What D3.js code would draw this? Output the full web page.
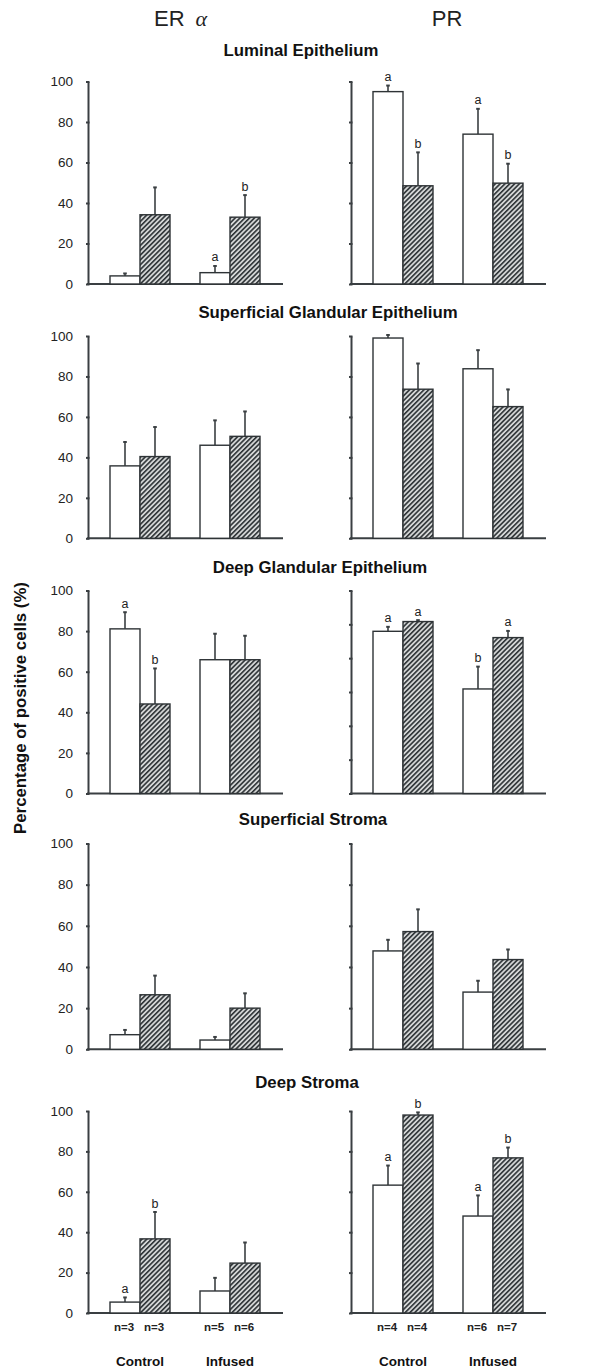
<!DOCTYPE html>
<html><head><meta charset="utf-8">
<script src="https://cdn.jsdelivr.net/npm/d3@7"></script>
<style>body{margin:0;background:#fff} svg{display:block}</style>
</head><body>
<script>
// ---------------- DATA ----------------
const groups = ["Control", "Infused"];
const series = ["open", "hatched"];
const columnTitles = ["ER", "PR"];
const panelTitles = ["Luminal Epithelium", "Superficial Glandular Epithelium", "Deep Glandular Epithelium", "Superficial Stroma", "Deep Stroma"];
const yTickValues = [0, 20, 40, 60, 80, 100];
const yTickValuesSixths = [0, 16.67, 33.33, 50, 66.67, 83.33, 100];
const yAxisLabel = "Percentage of positive cells (%)";
// order of each row: [Control open, Control hatched, Infused open, Infused hatched]
const erMeans = [[4, 34.2, 5.6, 33], [35.8, 40.4, 46, 50.4], [81.1, 44.1, 65.9, 65.9], [7.1, 26.5, 4.5, 20], [5.4, 36.7, 10.9, 24.7]];
const erUpper = [[5.2, 47.7, 8.9, 43.9], [47.6, 55, 58.3, 62.7], [89.3, 61.6, 78.7, 77.7], [9.4, 35.8, 6, 27.2], [7.7, 50, 17.4, 34.9]];
const erLetters = [["", "", "a", "b"], ["", "", "", ""], ["a", "b", "", ""], ["", "", "", ""], ["a", "b", "", ""]];
const prMeans = [[95, 48.5, 74, 49.8], [99, 73.7, 83.8, 65.1], [79.9, 84.7, 51.5, 76.8], [47.8, 57.2, 27.8, 43.6], [63.3, 98, 48, 76.8]];
const prUpper = [[98, 65, 86.5, 59.4], [100.5, 86.4, 93, 73.6], [82.1, 85.4, 62.5, 80.1], [53.2, 68, 33.3, 48.5], [73, 99.3, 58.2, 81.9]];
const prLetters = [["a", "b", "a", "b"], ["", "", "", ""], ["a", "a", "b", "a"], ["", "", "", ""], ["a", "b", "a", "b"]];
const prTicksPerRow = [yTickValues, yTickValues, yTickValuesSixths, yTickValues, yTickValues];
const erN = ["n=3", "n=3", "n=5", "n=6"];
const prN = ["n=4", "n=4", "n=6", "n=7"];

// ---------------- LAYOUT ----------------
const W = 600, H = 1371;
const FONT = "'Liberation Sans', Arial, Helvetica, sans-serif";
const rowTop = [81.5, 336, 590.5, 843.5, 1111];
const rowBottom = [284, 538.3, 793.5, 1049.3, 1313];
const titleX = [301, 328, 320, 313, 307];
const titleY = [56, 318, 573, 825, 1088];
const cols = [
  {axisX: 88, groupRange: [95, 275], xEnd: 283, means: erMeans, upper: erUpper, letters: erLetters, n: erN},
  {axisX: 351, groupRange: [358, 538], xEnd: 546, means: prMeans, upper: prUpper, letters: prLetters, n: prN}
];
const axisColor = "#3a3f42";
const inkColor = "#222";

const svg = d3.select("body").append("svg").attr("width", W).attr("height", H)
  .style("font-family", FONT);

const defs = svg.append("defs");
const pat = defs.append("pattern").attr("id", "hatch").attr("patternUnits", "userSpaceOnUse")
  .attr("width", 3.4).attr("height", 3.4).attr("patternTransform", "rotate(45)");
pat.append("rect").attr("width", 3.4).attr("height", 3.4).attr("fill", "#d4d6d6");
pat.append("line").attr("x1", 0.8).attr("y1", 0).attr("x2", 0.8).attr("y2", 3.4)
  .attr("stroke", "#2e3336").attr("stroke-width", 1.6);

// Column headers
const erT = svg.append("text").attr("x", 154).attr("y", 26).attr("font-size", 22).attr("fill", inkColor);
erT.append("tspan").text(columnTitles[0]);
erT.append("tspan").attr("dx", 11).attr("font-family", "'Liberation Serif', 'DejaVu Serif', serif")
  .attr("font-style", "italic").attr("font-size", 22).text("α");
svg.append("text").attr("x", 447).attr("y", 26).attr("text-anchor", "middle")
  .attr("font-size", 22).attr("fill", inkColor).text(columnTitles[1]);

// Y axis label
svg.append("text").attr("transform", "translate(26,708) rotate(-90)").attr("text-anchor", "middle")
  .attr("font-size", 16.8).attr("font-weight", "bold").attr("fill", "#111").text(yAxisLabel);

panelTitles.forEach((title, r) => {
  svg.append("text").attr("x", titleX[r]).attr("y", titleY[r]).attr("text-anchor", "middle")
    .attr("font-size", 16.8).attr("font-weight", "bold").attr("fill", "#111").text(title);

  cols.forEach((col, c) => {
    const g = svg.append("g");
    const y = d3.scaleLinear().domain([0, 100]).range([rowBottom[r], rowTop[r]]);
    const gx = d3.scaleBand().domain(groups).range(col.groupRange).paddingInner(1/3).paddingOuter(1/6);
    const sx = d3.scaleBand().domain(series).range([0, gx.bandwidth()]);

    const ticks = c === 0 ? yTickValues : prTicksPerRow[r];
    const axis = d3.axisLeft(y).tickValues(ticks).tickSizeInner(2).tickSizeOuter(0).tickPadding(13)
      .tickFormat(c === 0 ? d3.format("d") : () => "");
    const ag = g.append("g").attr("transform", `translate(${col.axisX},0)`).call(axis);
    ag.select(".domain").attr("stroke", axisColor).attr("stroke-width", 2);
    ag.selectAll(".tick line").attr("x1", 1.5).attr("x2", -2).attr("stroke", axisColor).attr("stroke-width", 2);
    ag.selectAll(".tick text").attr("font-size", 13.5).attr("fill", inkColor).attr("font-family", FONT);

    // x baseline
    g.append("line").attr("x1", col.axisX - 1).attr("x2", col.xEnd).attr("y1", y(0)).attr("y2", y(0))
      .attr("stroke", axisColor).attr("stroke-width", 2);

    const items = col.means[r].map((m, i) => ({
      group: groups[Math.floor(i / 2)], s: series[i % 2], mean: m, up: col.upper[r][i], letter: col.letters[r][i], n: col.n[i]
    }));

    // error bars
    items.forEach(d => {
      const cx = gx(d.group) + sx(d.s) + sx.bandwidth() / 2;
      g.append("line").attr("x1", cx).attr("x2", cx).attr("y1", y(d.mean)).attr("y2", y(d.up))
        .attr("stroke", "#3a3f42").attr("stroke-width", 1.6);
      g.append("line").attr("x1", cx - 1.8).attr("x2", cx + 1.8).attr("y1", y(d.up)).attr("y2", y(d.up))
        .attr("stroke", "#3a3f42").attr("stroke-width", 2);
    });

    // bars
    g.selectAll("rect.bar").data(items).join("rect").attr("class", "bar")
      .attr("x", d => gx(d.group) + sx(d.s))
      .attr("y", d => y(d.mean))
      .attr("width", sx.bandwidth())
      .attr("height", d => y(0) - y(d.mean))
      .attr("fill", d => d.s === "open" ? "#fff" : "url(#hatch)")
      .attr("stroke", "#2e3336").attr("stroke-width", 1.4);

    // letters
    g.selectAll("text.sig").data(items.filter(d => d.letter)).join("text").attr("class", "sig")
      .attr("x", d => gx(d.group) + sx(d.s) + sx.bandwidth() / 2)
      .attr("y", d => y(Math.max(d.up, d.mean)) - 4.5)
      .attr("text-anchor", "middle").attr("font-size", 12.5).attr("fill", inkColor).text(d => d.letter);

    // bottom labels on last row
    if (r === panelTitles.length - 1) {
      g.selectAll("text.n").data(items).join("text").attr("class", "n")
        .attr("x", d => gx(d.group) + sx(d.s) + sx.bandwidth() / 2 - 1)
        .attr("y", 1331).attr("text-anchor", "middle").attr("font-size", 11.5).attr("font-weight", "bold")
        .attr("fill", inkColor).text(d => d.n);
      g.selectAll("text.grp").data(groups).join("text").attr("class", "grp")
        .attr("x", d => gx(d) + gx.bandwidth() / 2)
        .attr("y", 1366).attr("text-anchor", "middle").attr("font-size", 13.5).attr("font-weight", "bold")
        .attr("fill", "#111").text(d => d);
    }
  });
});
</script>
</body></html>
